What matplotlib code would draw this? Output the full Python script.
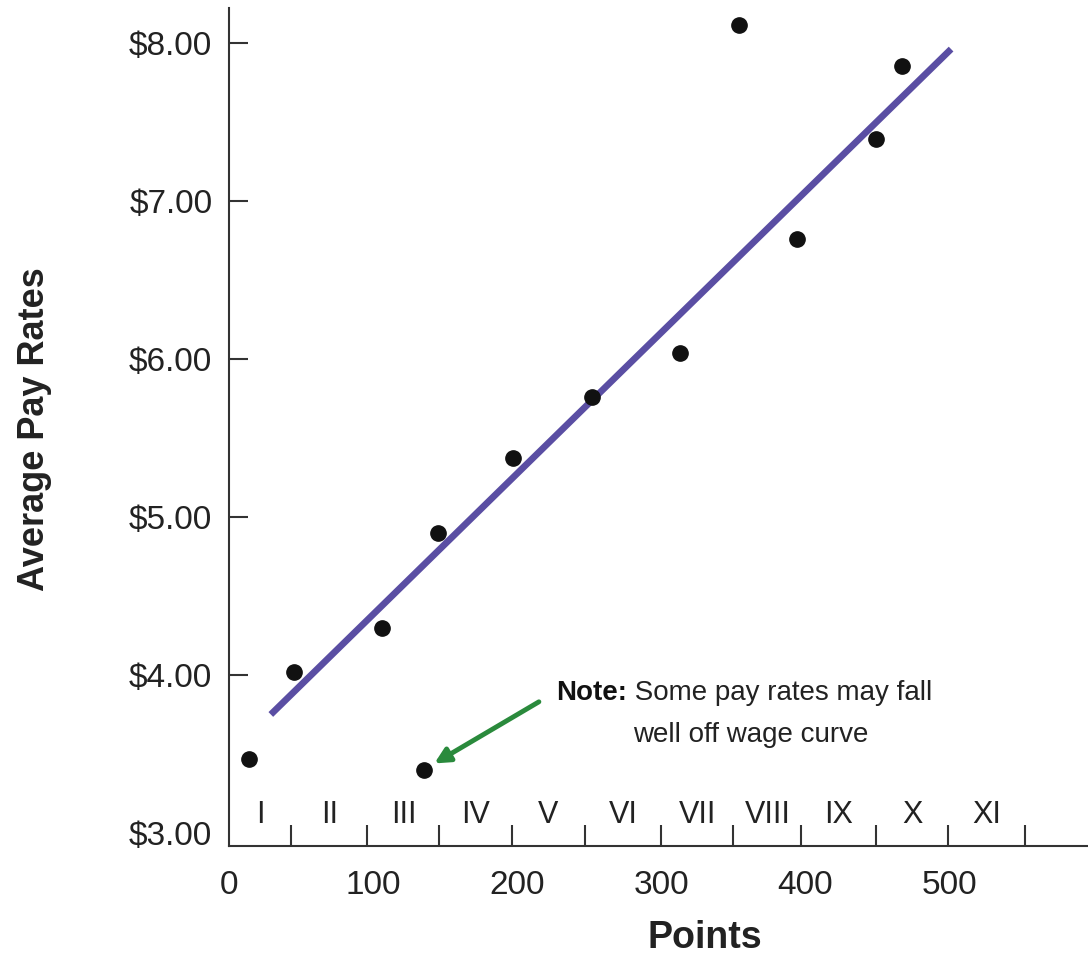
import numpy as np
import matplotlib
matplotlib.use("Agg")
import matplotlib.pyplot as plt

# data
points = [14, 45, 106, 135, 145, 197, 252, 313, 354, 394, 449, 467]
pay = [3.47, 4.02, 4.30, 3.40, 4.90, 5.37, 5.76, 6.04, 8.11, 6.76, 7.39, 7.85]

# wage curve (fitted line) end points
curve_x = [29, 501]
curve_y = [3.75, 7.96]

# pay grade boundaries and names
grade_edges = [0, 43, 96, 146, 196, 247, 300, 350, 397, 449, 499, 552]
grade_names = ["I", "II", "III", "IV", "V", "VI", "VII", "VIII", "IX", "X", "XI"]

yticks = [3, 4, 5, 6, 7, 8]
ytick_labels = ["$3.00", "$4.00", "$5.00", "$6.00", "$7.00", "$8.00"]
xticks = [0, 100, 200, 300, 400, 500]

outlier = (135, 3.40)

axis_col = "#333333"
fam = ["Liberation Sans", "DejaVu Sans"]

fig = plt.figure(figsize=(10.88, 9.61), dpi=100)
ax = fig.add_axes([0.2105, 0.1197, 0.7895, 0.872])

ax.plot(curve_x, curve_y, color="#5a4ea3", lw=4.8, solid_capstyle="butt", zorder=2)
ax.plot(points, pay, "o", color="#111111", ms=11, zorder=3)

# grade boundary ticks and labels
ax.vlines(grade_edges[1:], 2.918, 3.05, color=axis_col, lw=1.5)
for i, name in enumerate(grade_names):
    mid = (grade_edges[i] + grade_edges[i + 1]) / 2
    ax.text(mid, 3.065, name, ha="center", va="baseline",
            fontsize=22, family=fam, color="#222222")

ax.set_xlim(0, 596)
ax.set_ylim(2.918, 8.22)

ax.set_yticks(yticks)
ax.set_yticklabels(ytick_labels, family=fam, fontsize=24, color="#222222")
ax.set_xticks(xticks)
ax.set_xticklabels([str(t) for t in xticks], family=fam, fontsize=24, color="#222222")
ax.tick_params(axis="y", direction="in", length=14, width=1.5, color=axis_col, pad=12)
ax.tick_params(axis="x", length=0, pad=17)
ax.yaxis.get_major_ticks()[0].tick1line.set_visible(False)

for s in ["top", "right"]:
    ax.spines[s].set_visible(False)
for s in ["left", "bottom"]:
    ax.spines[s].set_color(axis_col)
    ax.spines[s].set_linewidth(1.5)

# note with arrow
ax.annotate("", xy=outlier, xytext=(215, 3.83),
            arrowprops=dict(arrowstyle="-|>,head_length=0.9,head_width=0.45",
                            color="#2a8a3c", lw=3.5, shrinkA=0, shrinkB=9))
note = ax.text(227, 3.842, "Note:", ha="left", va="baseline",
               fontsize=20, family=fam, weight="bold", color="#111111")
ax.annotate(" Some pay rates may fall", xy=(1, 0), xycoords=note,
            ha="left", va="bottom", fontsize=20, family=fam, color="#222222")
ax.text(362, 3.576, "well off wage curve", ha="center", va="baseline",
        fontsize=20, family=fam, color="#222222")

fig.text(0.648, 0.014, "Points", ha="center", va="baseline",
         fontsize=27, family=fam, weight="bold", color="#222222")
fig.text(0.032, 0.553, "Average Pay Rates", ha="center", va="center", rotation=90,
         fontsize=26, family=fam, weight="bold", color="#222222")

fig.savefig("out.png", dpi=100)
